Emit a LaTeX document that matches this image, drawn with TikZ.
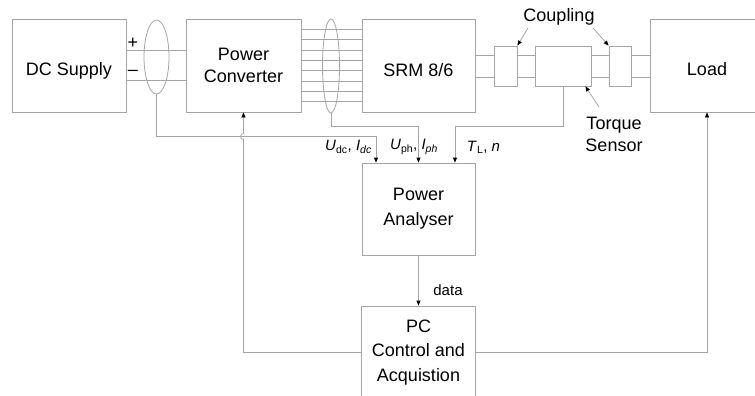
\documentclass[tikz,border=0pt]{standalone}
\usepackage{fontspec}
\setmainfont{Liberation Sans}
\usetikzlibrary{arrows.meta,shapes.geometric}
\definecolor{lg}{RGB}{165,165,165}
\begin{document}
\begin{tikzpicture}[x=1pt,y=-1pt,
  every node/.style={font=\fontsize{18}{22}\selectfont, inner sep=0pt, align=center},
  box/.style={draw=lg, line width=0.8pt},
  big/.style={box, minimum width=114pt, minimum height=93pt},
  small/.style={box, minimum height=40pt},
  tstrut/.style={execute at begin node={\rule{0pt}{#1}}},
  ln/.style={draw=lg, line width=0.8pt},
  arr/.style={ln, -{Triangle[length=5pt,width=4pt,color=black]}},
  sig/.style={font=\fontsize{15}{18}\selectfont},
  oval/.style={draw=lg, line width=0.8pt, ellipse, inner sep=0pt}]
\useasboundingbox (0,0) rectangle (755,396);
\clip (0,0) rectangle (755,396);
% main boxes
\node[big, tstrut=23.1pt] (dcs) at (69,65.5) {DC Supply};
\node[big, minimum width=115pt, tstrut=21.1pt] (pconv) at (243.5,65.5) {Power\\Converter};
\node[big, minimum width=113pt, tstrut=23.1pt] (srm) at (418.5,65.5) {SRM 8/6};
\node[big, tstrut=21.1pt] (load) at (707,65.5) {Load};
\node[small, minimum width=23pt] (coup1) at (505.5,66) {};
\node[small, minimum width=56pt] (tsens) at (563,66) {};
\node[small, minimum width=22pt] (coup2) at (620,66) {};
\node[big, minimum width=113pt, minimum height=92pt, font=\fontsize{18}{25}\selectfont, tstrut=27.1pt] (pan) at (418.5,209) {Power\\Analyser};
\node[big, font=\fontsize{18}{24.7}\selectfont, tstrut=22.7pt] (pc) at (418.5,352.5) {PC\\Control and\\Acquistion};
% supply wires
\draw[ln] ([yshift=15pt]dcs.east) -- ([yshift=15pt]pconv.west);
\draw[ln] ([yshift=-15pt]dcs.east) -- ([yshift=-15pt]pconv.west);
\node (plus) at (133,43) {+};
\node (minus) at (133,73) {--};
\node[oval, minimum width=25pt, minimum height=74pt] (e1) at (156.5,57) {};
% phase wires
\foreach \k in {0,...,7}{
  \draw[ln] ([yshift={36pt-\k*10.3pt}]pconv.east) -- ([yshift={36pt-\k*10.3pt}]srm.west);
}
\node[oval, minimum width=17pt, minimum height=94pt] (e2) at (331,66) {};
% shaft
\foreach \s in {11,-11}{
  \draw[ln] ([yshift=\s pt]coup1.west -| srm.east) -- ([yshift=\s pt]coup1.west);
  \draw[ln] ([yshift=\s pt]coup1.east) -- ([yshift=\s pt]tsens.west);
  \draw[ln] ([yshift=\s pt]tsens.east) -- ([yshift=\s pt]coup2.west);
  \draw[ln] ([yshift=\s pt]coup2.east) -- ([yshift=\s pt]coup2.east -| load.west);
}
% labels
\node (coupl) at (559,17) {Coupling};
\coordinate (c1) at (528,28);
\coordinate (c2) at (593,28);
\draw[arr] (c1) -- (coup1.north east);
\draw[arr] (c2) -- (coup2.north west);
\node (tlbl) at (614,134.5) {Torque\\Sensor};
\coordinate (t1) at (599,107);
\draw[arr] (t1) -- ([xshift=-6pt]tsens.south east);
% measurement lines
\coordinate (m1) at (0,136);
\coordinate (m2) at (0,126);
\draw[arr] (e1.south) |- ([xshift=-42.5pt]pan.north |- m1) -- ([xshift=-42.5pt]pan.north);
\draw[arr] (e2.south) |- (pan.north |- m2) -- (pan.north);
\draw[arr] (tsens.south) |- ([xshift=36.5pt]pan.north |- m2) -- ([xshift=36.5pt]pan.north);
\node[sig] (l1) at (348.5,147) {\textit{U}\textsubscript{dc}, \textit{I}\textsubscript{\textit{dc}}};
\node[sig] (l2) at (414,147) {\textit{U}\textsubscript{ph}, \textit{I}\textsubscript{\textit{ph}}};
\node[sig] (l3) at (483.5,147) {\textit{T}\textsubscript{L}, \textit{n}};
% data and control
\draw[arr] (pan.south) -- (pc.north);
\node[sig] (dl) at (448,290) {data};
\coordinate (h) at (0,139.5);
\draw[arr] (pc.west) -| (pconv.south |- h) arc[start angle=270, end angle=90, radius=3pt] -- (pconv.south);
\draw[arr] (pc.east) -| (load.south);
\end{tikzpicture}
\end{document}
